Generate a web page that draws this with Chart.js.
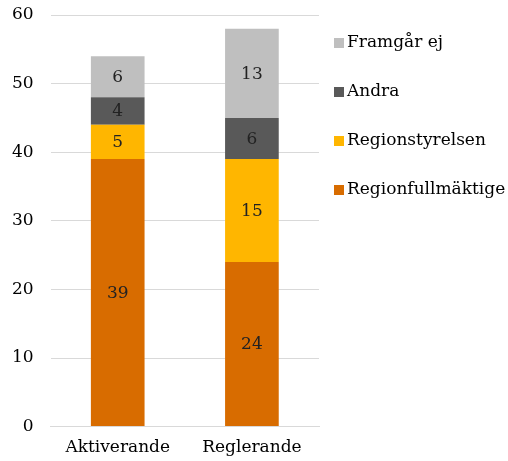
<!DOCTYPE html>
<html>
<head>
<meta charset="utf-8">
<script src="https://cdn.jsdelivr.net/npm/chart.js@4"></script>
<style>
  html, body { margin: 0; padding: 0; background: #fff; }
  #wrap { width: 508px; height: 461px; }
</style>
</head>
<body>
<div id="wrap"><canvas id="chart"></canvas></div>
<script>
// ===== Data =====
const categories = ['Aktiverande', 'Reglerande'];
const regionfullmaktige = [39, 24];
const regionstyrelsen = [5, 15];
const andra = [4, 6];
const framgarEj = [6, 13];
const yTicks = [0, 10, 20, 30, 40, 50, 60];

const FONT = "'DejaVu Serif', serif";
Chart.defaults.font.family = FONT;
Chart.defaults.color = '#000';

// Value labels in the middle of each segment
const segmentLabels = {
    id: 'segmentLabels',
    afterDatasetsDraw(chart) {
        const ctx = chart.ctx;
        ctx.save();
        ctx.font = '17px ' + FONT;
        ctx.fillStyle = '#222';
        ctx.textAlign = 'center';
        ctx.textBaseline = 'middle';
        chart.data.datasets.forEach((ds, i) => {
            chart.getDatasetMeta(i).data.forEach((bar, j) => {
                ctx.fillText(String(ds.data[j]), bar.x, (bar.y + bar.base) / 2 + 1);
            });
        });
        ctx.restore();
    }
};

// Legend on the right, drawn by hand so the row spacing and gap can differ
const sideLegend = {
    id: 'sideLegend',
    afterDraw(chart) {
        const ctx = chart.ctx;
        const x = chart.chartArea.right + 15;
        let y = 43;
        ctx.save();
        ctx.font = '17px ' + FONT;
        ctx.textBaseline = 'middle';
        ctx.textAlign = 'left';
        chart.data.datasets.slice().reverse().forEach(ds => {
            ctx.fillStyle = ds.backgroundColor;
            ctx.fillRect(x, y - 5, 10, 10);
            ctx.fillStyle = '#000';
            ctx.fillText(ds.label, x + 13, y);
            y += 49;
        });
        ctx.restore();
    }
};

new Chart(document.getElementById('chart'), {
    type: 'bar',
    data: {
        labels: categories,
        datasets: [
            { label: 'Regionfullmäktige', data: regionfullmaktige, backgroundColor: '#D86C00' },
            { label: 'Regionstyrelsen', data: regionstyrelsen, backgroundColor: '#FFB600' },
            { label: 'Andra', data: andra, backgroundColor: '#595959' },
            { label: 'Framgår ej', data: framgarEj, backgroundColor: '#BFBFBF' }
        ]
    },
    options: {
        responsive: true,
        maintainAspectRatio: false,
        animation: false,
        barPercentage: 0.4,
        categoryPercentage: 1,
        layout: { padding: { top: 15, left: 9, right: 189, bottom: 0 } },
        plugins: {
            legend: { display: false },
            tooltip: { enabled: false }
        },
        scales: {
            x: {
                stacked: true,
                grid: { display: false },
                border: { color: '#D9D9D9', width: 1 },
                ticks: { font: { size: 17 }, color: '#000', padding: 3 }
            },
            y: {
                stacked: true,
                min: 0,
                max: 60,
                afterBuildTicks: axis => { axis.ticks = yTicks.map(v => ({ value: v })); },
                grid: { color: '#D9D9D9', drawTicks: true, tickLength: 14, tickColor: 'rgba(0,0,0,0)' },
                border: { display: false },
                ticks: { font: { size: 17 }, color: '#000', padding: 3 }
            }
        }
    },
    plugins: [segmentLabels, sideLegend]
});
</script>
</body>
</html>
